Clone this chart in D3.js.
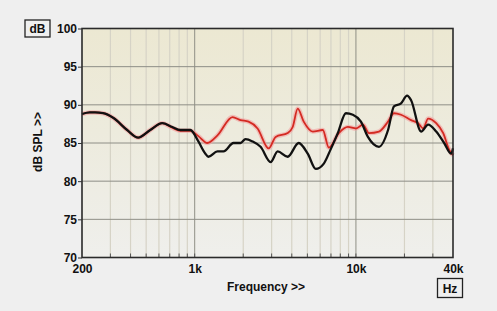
<!DOCTYPE html>
<html lang="en">
<head>
    <meta charset="UTF-8">
    <script src="https://d3js.org/d3.v7.min.js"></script>
    <title>Frequency response</title>
    <style>
        body {
            margin: 0;
            background-color: #efefef;
            font-family: "Liberation Sans", Arial, sans-serif;
        }
        svg text {
            font-weight: bold;
            fill: #111;
        }
    </style>
</head>
<body>
    <div id="chart"></div>

    <script>
        const width = 497;
        const height = 311;

        // frequency tick labels on the x axis
        const xTicks = [200, 1000, 10000, 40000];
        const xTickLabels = ["200", "1k", "10k", "40k"];
        const yTicks = [70, 75, 80, 85, 90, 95, 100];

        // black trace
        const blackFreq = [200, 224, 241, 270, 312, 381, 446, 530, 629, 726, 815, 940, 1054, 1165, 1216, 1384, 1509, 1740, 1924, 2066, 2285, 2562, 2958, 3270, 3774, 4416, 5024, 5636, 6320, 6980, 7720, 8660, 9570, 10740, 11870, 13900, 15820, 17220, 19050, 20760, 21980, 25360, 28050, 31460, 35260, 39000, 40000];
        const blackDb = [88.8, 89.0, 89.0, 88.9, 88.3, 86.7, 85.7, 86.7, 87.6, 87.1, 86.7, 86.7, 85.2, 83.6, 83.2, 83.9, 83.9, 85.0, 85.0, 85.5, 85.2, 84.5, 82.5, 83.9, 83.2, 85.0, 83.6, 81.6, 82.3, 84.2, 86.3, 88.9, 88.7, 87.8, 85.8, 84.5, 86.7, 89.8, 90.2, 91.2, 90.6, 86.5, 87.4, 86.5, 85.0, 83.6, 84.3];

        // red trace
        const redFreq = [200, 224, 241, 270, 312, 381, 446, 530, 629, 726, 815, 940, 1054, 1198, 1384, 1716, 1924, 2158, 2454, 2873, 3178, 3774, 4054, 4356, 4744, 5400, 6228, 6790, 7835, 8914, 10000, 11050, 12050, 13900, 15820, 17220, 19050, 21980, 24300, 26100, 28050, 31460, 34780, 37900, 40000];
        const redDb = [88.8, 89.0, 89.0, 88.9, 88.3, 86.7, 85.7, 86.7, 87.6, 87.0, 86.6, 86.6, 85.9, 85.0, 86.0, 88.4, 88.0, 87.8, 86.9, 84.3, 85.8, 86.3, 87.1, 89.5, 87.8, 86.5, 86.7, 84.4, 86.3, 87.1, 86.9, 87.4, 86.3, 86.5, 87.8, 88.9, 88.7, 88.0, 87.6, 86.9, 88.2, 87.6, 86.3, 84.1, 83.4];

        const plot = { left: 82, right: 453, top: 28.5, bottom: 257.5 };

        const svg = d3.select("#chart").append("svg")
            .attr("width", width)
            .attr("height", height);

        const x = d3.scaleLog().domain([200, 40000]).range([plot.left, plot.right]);
        const y = d3.scaleLinear().domain([70, 100]).range([plot.bottom, plot.top]);

        // background gradient of the plot area
        const grad = svg.append("defs").append("linearGradient")
            .attr("id", "bg").attr("x1", 0).attr("y1", 0).attr("x2", 0).attr("y2", 1);
        grad.append("stop").attr("offset", "0%").attr("stop-color", "#ece8d2");
        grad.append("stop").attr("offset", "45%").attr("stop-color", "#edebdd");
        grad.append("stop").attr("offset", "100%").attr("stop-color", "#efefec");

        svg.append("rect")
            .attr("x", plot.left).attr("y", plot.top)
            .attr("width", plot.right - plot.left).attr("height", plot.bottom - plot.top)
            .attr("fill", "url(#bg)");

        // vertical grid: minor and decade lines
        const minor = [];
        [100, 1000, 10000].forEach(dec => {
            for (let m = 1; m <= 9; m++) {
                const f = dec * m;
                if (f > 200 && f < 40000) minor.push(f);
            }
        });

        svg.append("g").selectAll("line")
            .data(minor)
            .enter().append("line")
            .attr("x1", d => x(d)).attr("x2", d => x(d))
            .attr("y1", plot.top).attr("y2", plot.bottom)
            .attr("stroke", d => (d === 1000 || d === 10000) ? "#8f8f85" : "#d6d3c6")
            .attr("stroke-width", d => (d === 1000 || d === 10000) ? 1 : 1.2);

        // small ticks inside the bottom axis
        svg.append("g").selectAll("line")
            .data(minor)
            .enter().append("line")
            .attr("x1", d => x(d)).attr("x2", d => x(d))
            .attr("y1", plot.bottom - 4).attr("y2", plot.bottom)
            .attr("stroke", "#555");

        // horizontal grid
        svg.append("g").selectAll("line")
            .data(yTicks.slice(1, -1))
            .enter().append("line")
            .attr("x1", plot.left).attr("x2", plot.right)
            .attr("y1", d => y(d)).attr("y2", d => y(d))
            .attr("stroke", "#8e8e86");

        // traces
        const line = (fs, vals) => d3.line()
            .x((d, i) => x(fs[i]))
            .y(d => y(d))
            .curve(d3.curveMonotoneX)(vals);

        svg.append("path").attr("d", line(redFreq, redDb))
            .attr("fill", "none").attr("stroke", "#f2a0a0").attr("stroke-width", 4.5).attr("opacity", 0.6);
        svg.append("path").attr("d", line(redFreq, redDb))
            .attr("fill", "none").attr("stroke", "#d42a22").attr("stroke-width", 1.8);
        svg.append("path").attr("d", line(blackFreq, blackDb))
            .attr("fill", "none").attr("stroke", "#111").attr("stroke-width", 2.3);

        // frame
        svg.append("rect")
            .attr("x", plot.left).attr("y", plot.top)
            .attr("width", plot.right - plot.left).attr("height", plot.bottom - plot.top)
            .attr("fill", "none").attr("stroke", "#2a2a2a").attr("stroke-width", 1.6);

        // y axis
        const yAxis = svg.append("g")
            .attr("transform", `translate(${plot.left},0)`)
            .call(d3.axisLeft(y).tickValues(yTicks).tickSize(4).tickPadding(1));
        yAxis.select(".domain").remove();
        yAxis.selectAll("line").attr("stroke", "#333");
        yAxis.selectAll("text").style("font-size", "12px").style("font-family", "Liberation Sans, Arial, sans-serif");

        // x axis
        const xAxis = svg.append("g")
            .attr("transform", `translate(0,${plot.bottom})`)
            .call(d3.axisBottom(x).tickValues(xTicks).tickFormat((d, i) => xTickLabels[i]).tickSize(0).tickPadding(7));
        xAxis.select(".domain").remove();
        xAxis.selectAll("text").style("font-size", "12px").style("font-family", "Liberation Sans, Arial, sans-serif");

        // axis titles
        svg.append("text")
            .attr("transform", `translate(42,142) rotate(-90)`)
            .attr("text-anchor", "middle")
            .style("font-size", "12px")
            .text("dB SPL >>");

        svg.append("text")
            .attr("x", 266).attr("y", 291)
            .attr("text-anchor", "middle")
            .style("font-size", "12px")
            .text("Frequency >>");

        // unit boxes
        const unitBox = (cx, cy, w, h, label) => {
            svg.append("rect")
                .attr("x", cx - w / 2).attr("y", cy - h / 2)
                .attr("width", w).attr("height", h)
                .attr("fill", "#efefef").attr("stroke", "#222").attr("stroke-width", 1.3);
            svg.append("text")
                .attr("x", cx).attr("y", cy + 4.5)
                .attr("text-anchor", "middle")
                .style("font-size", "12px")
                .text(label);
        };
        unitBox(37.5, 28.5, 25, 17, "dB");
        unitBox(450, 288, 25, 19, "Hz");
    </script>
</body>
</html>
